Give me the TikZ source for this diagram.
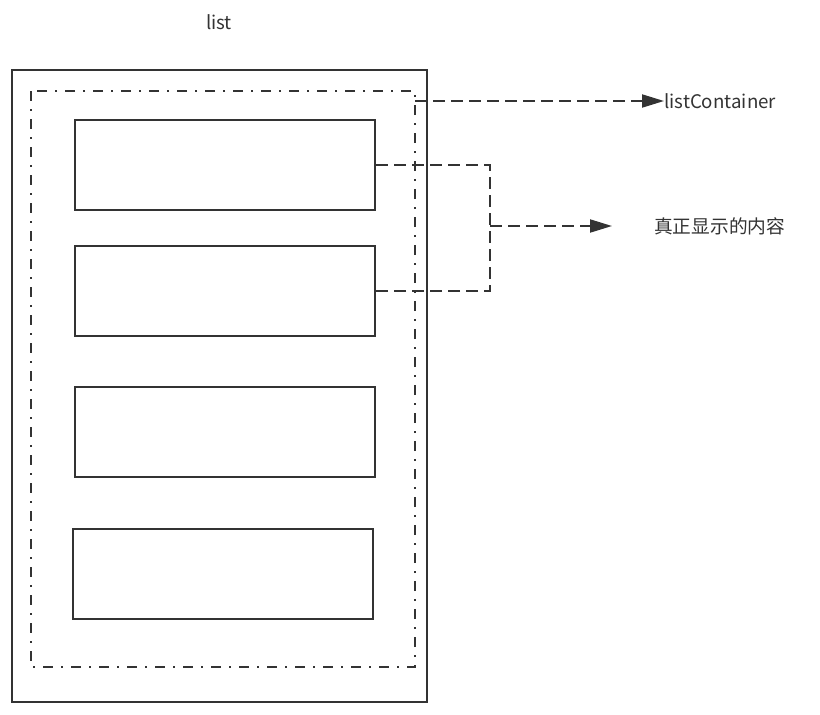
\documentclass[tikz,border=0pt]{standalone}
\usepackage{fontspec}
\setmainfont{Noto Sans CJK SC}
\usetikzlibrary{arrows.meta}
\definecolor{ink}{HTML}{333333}
\tikzset{
  solidbox/.style={draw=ink, line width=2pt},
  dashdot/.style={draw=ink, line width=2pt, dash pattern=on 10pt off 8pt on 2pt off 8pt},
  dashline/.style={draw=ink, line width=2pt, dash pattern=on 12pt off 6pt},
  arr/.style={-{Triangle[length=22pt,width=13pt]}},
  lbl/.style={inner sep=0pt, text=ink, font=\fontsize{18.7pt}{21pt}\selectfont},
}
\begin{document}
\begin{tikzpicture}[x=1pt,y=-1pt]
\useasboundingbox (0,0) rectangle (820,715);
\node[lbl, anchor=center] (title) at (219,22) {list};
\draw[solidbox] (12,70) rectangle (427,702);
\draw[dashdot] (31,91) rectangle (415,667);
\coordinate (ctop) at (415,101);
\node[solidbox, minimum width=300pt, minimum height=90pt, inner sep=0pt] (b1) at (225,165) {};
\node[solidbox, minimum width=300pt, minimum height=90pt, inner sep=0pt] (b2) at (225,291) {};
\node[solidbox, minimum width=300pt, minimum height=90pt, inner sep=0pt] (b3) at (225,432) {};
\node[solidbox, minimum width=300pt, minimum height=90pt, inner sep=0pt] (b4) at (223,574) {};
\node[lbl, anchor=west] (lc) at (664,101) {listContainer};
\node[lbl, anchor=west] (content) at (654,226) {真正显示的内容};
\coordinate (brk) at (490,226);
\draw[dashline, arr] (ctop) -- (lc.west);
\draw[dashline] (b1.east) -- (490,165) -- (490,291) -- (b2.east);
\draw[dashline, arr] (brk) -- (612,226);
\end{tikzpicture}
\end{document}
